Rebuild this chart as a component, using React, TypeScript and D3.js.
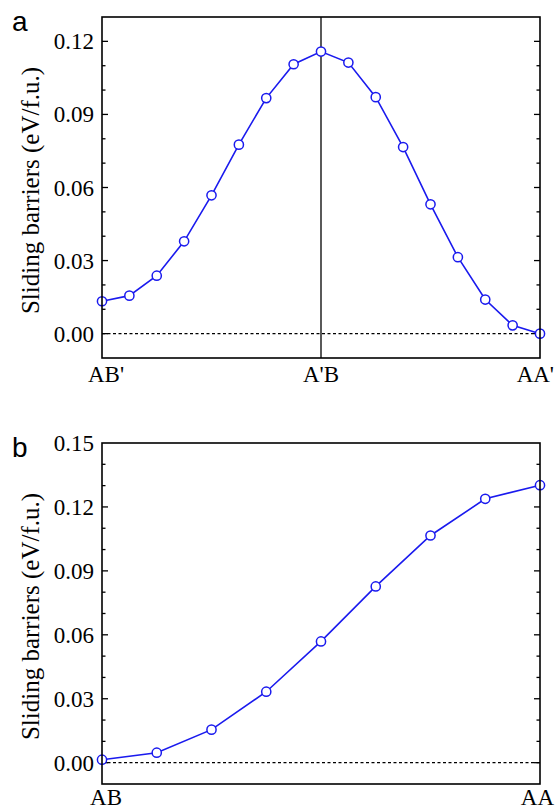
import React from "react";
import * as d3 from "d3";

const panelALabels = ["AB'", "A'B", "AA'"];
const panelAValues = [0.0133, 0.0156, 0.0238, 0.0379, 0.0568, 0.0776, 0.0967, 0.1106, 0.1158, 0.1113, 0.0971, 0.0766, 0.0531, 0.0314, 0.014, 0.0034, 0.0];
const panelATicks = [0.0, 0.03, 0.06, 0.09, 0.12];

const panelBLabels = ["AB", "AA"];
const panelBValues = [0.0014, 0.0047, 0.0155, 0.0333, 0.0569, 0.0827, 0.1066, 0.1238, 0.1302];
const panelBTicks = [0.0, 0.03, 0.06, 0.09, 0.12, 0.15];

const W = 556;
const H = 809;
const BLUE = "#1a1aee";
const SERIF = "Liberation Serif, Times New Roman, Times, Nimbus Roman, DejaVu Serif, serif";

type PanelProps = {
  letter: string;
  values: number[];
  labels: string[];
  labelPos: number[];
  ticks: number[];
  yDomain: [number, number];
  top: number;
  bottom: number;
  labelY: number;
  vline?: number;
};

function Panel({ letter, values, labels, labelPos, ticks, yDomain, top, bottom, labelY, vline }: PanelProps) {
  const left = 102;
  const right = 540;
  const x = d3.scaleLinear().domain([0, values.length - 1]).range([left, right]);
  const y = d3.scaleLinear().domain(yDomain).range([bottom, top]);
  const minor = d3.range(Math.round(yDomain[0] * 100), Math.round(yDomain[1] * 100) + 1).map((v) => v / 100);
  const line = d3
    .line<number>()
    .x((_, i) => x(i))
    .y((d) => y(d));
  const labelX = d3.scaleLinear().domain([0, 1]).range([left, right]);
  return (
    <g>
      <text x={12} y={top + 14} style={{ fontFamily: "Liberation Sans, Arial, sans-serif", fontSize: 28 }}>
        {letter}
      </text>
      <text
        transform={`translate(${39},${(top + bottom) / 2 + 3}) rotate(-90)`}
        textAnchor="middle"
        style={{ fontFamily: SERIF, fontSize: 25 }}
      >
        Sliding barriers (eV/f.u.)
      </text>
      <line x1={left} x2={right} y1={y(0)} y2={y(0)} stroke="#000" strokeWidth={1.3} strokeDasharray="3,2.5" />
      {vline !== undefined && (
        <line x1={x(vline)} x2={x(vline)} y1={top} y2={bottom} stroke="#000" strokeWidth={1.3} />
      )}
      {minor
        .filter((v) => v > yDomain[0] + 1e-9 && v < yDomain[1] - 1e-9)
        .map((v, i) => {
          const major = ticks.some((t) => Math.abs(t - v) < 1e-9);
          const len = major ? 6 : 3.5;
          return (
            <g key={i}>
              <line x1={left} x2={left + len} y1={y(v)} y2={y(v)} stroke="#000" strokeWidth={1.3} />
              <line x1={right} x2={right - len} y1={y(v)} y2={y(v)} stroke="#000" strokeWidth={1.3} />
            </g>
          );
        })}
      {ticks.map((t) => (
        <text
          key={t}
          x={left - 8}
          y={y(t)}
          dy="0.35em"
          textAnchor="end"
          style={{ fontFamily: SERIF, fontSize: 23 }}
        >
          {t.toFixed(2)}
        </text>
      ))}
      {labels.map((l, i) => {
        const p = labelPos[i];
        const anchor = p >= 1 ? "end" : "middle";
        const lx = p >= 1 ? 554 : labelX(p) + (p === 0 ? 4 : 0);
        return (
          <text key={l} x={lx} y={labelY} textAnchor={anchor} style={{ fontFamily: SERIF, fontSize: 23 }}>
            {l}
          </text>
        );
      })}
      <path d={line(values) ?? ""} fill="none" stroke={BLUE} strokeWidth={1.6} />
      {values.map((v, i) => (
        <circle key={i} cx={x(i)} cy={y(v)} r={4.6} fill="#fff" stroke={BLUE} strokeWidth={1.5} />
      ))}
      <rect x={left} y={top} width={right - left} height={bottom - top} fill="none" stroke="#000" strokeWidth={1.6} />
    </g>
  );
}

export default function App() {
  return (
    <svg width={W} height={H} style={{ position: "absolute", left: 0, top: 0, background: "#fff" }}>
      <rect width={W} height={H} fill="#fff" />
      <Panel
        letter="a"
        values={panelAValues}
        labels={panelALabels}
        labelPos={[0, 0.5, 1]}
        ticks={panelATicks}
        yDomain={[-0.01, 0.13]}
        top={17}
        bottom={358}
        labelY={382}
        vline={8}
      />
      <Panel
        letter="b"
        values={panelBValues}
        labels={panelBLabels}
        labelPos={[0, 1]}
        ticks={panelBTicks}
        yDomain={[-0.01, 0.15]}
        top={443}
        bottom={784}
        labelY={805}
      />
    </svg>
  );
}
